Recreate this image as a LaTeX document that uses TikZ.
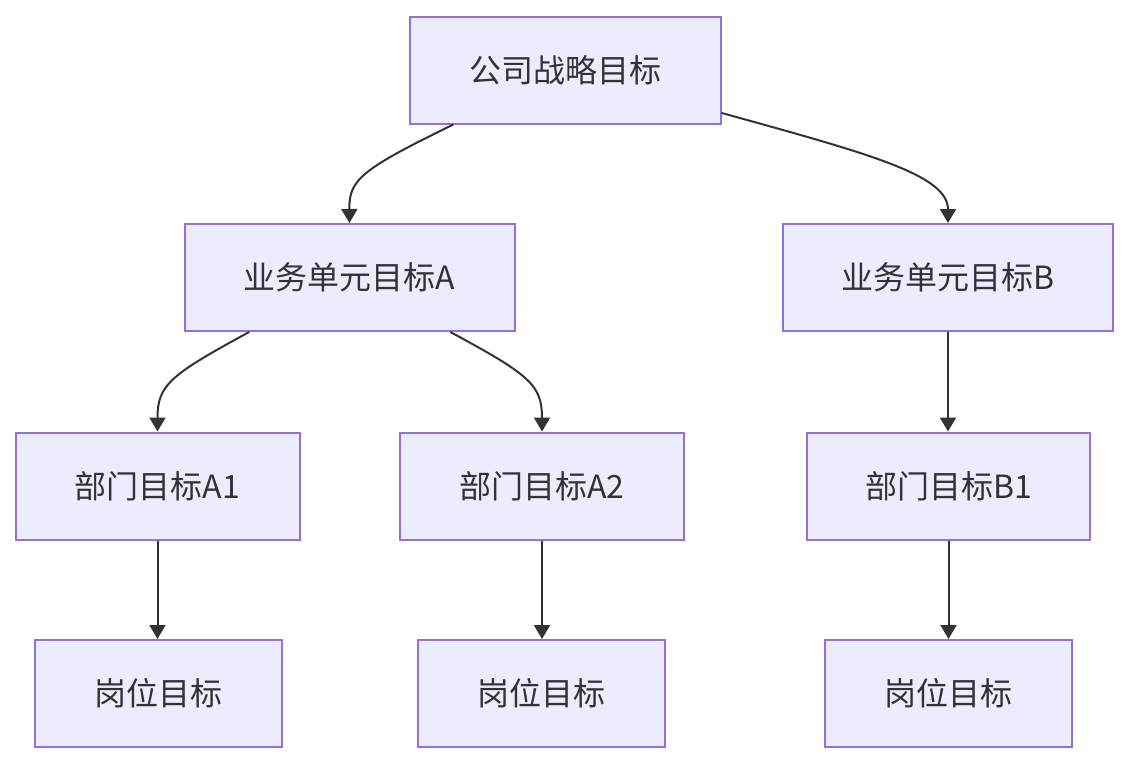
\documentclass[tikz,border=0pt]{standalone}
\usepackage{fontspec}
\setmainfont{Noto Sans CJK SC}
\usetikzlibrary{arrows.meta}
\definecolor{nodefill}{HTML}{ECECFF}
\definecolor{nodeborder}{HTML}{9370DB}
\definecolor{edgecol}{HTML}{333333}
\begin{document}
\begin{tikzpicture}[x=1pt,y=-1pt,
  box/.style={draw=nodeborder,fill=nodefill,line width=2pt,minimum height=107pt,inner sep=0pt,font=\fontsize{32}{36}\selectfont,text=edgecol},
  edge/.style={draw=edgecol,line width=2pt,-{Triangle[width=16pt,length=14pt]}}]
\useasboundingbox (0,0) rectangle (1129,764);
\node[box,minimum width=311pt] (top) at (565,70) {公司战略目标};
\node[box,minimum width=330pt] (A) at (349.5,277.5) {业务单元目标A};
\node[box,minimum width=330pt] (B) at (948,277.5) {业务单元目标B};
\node[box,minimum width=284pt] (A1) at (157.5,486) {部门目标A1};
\node[box,minimum width=284pt] (A2) at (542,486) {部门目标A2};
\node[box,minimum width=283pt] (B1) at (948.5,486) {部门目标B1};
\node[box,minimum width=247pt] (P1) at (158,693.5) {岗位目标};
\node[box,minimum width=247pt] (P2) at (541.5,693.5) {岗位目标};
\node[box,minimum width=247pt] (P3) at (948.5,693.5) {岗位目标};
\draw[edge] (top) .. controls (360,170) and (349,180) .. (A.north);
\draw[edge] (top) .. controls (870,154) and (948,175) .. (B.north);
\draw[edge] (A) .. controls (170,375) and (157.5,385) .. (A1.north);
\draw[edge] (A) .. controls (530,375) and (542,385) .. (A2.north);
\draw[edge] (B.south) -- (B.south |- B1.north);
\draw[edge] (A1.south) -- (A1.south |- P1.north);
\draw[edge] (A2.south) -- (A2.south |- P2.north);
\draw[edge] (B1.south) -- (B1.south |- P3.north);
\end{tikzpicture}
\end{document}
